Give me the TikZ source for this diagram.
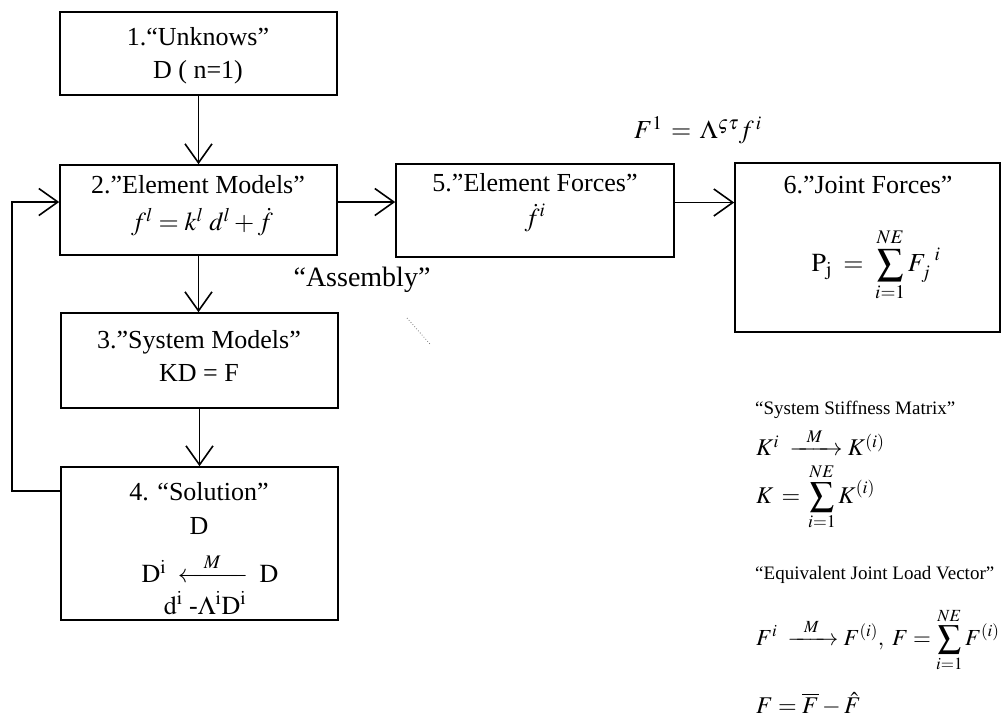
\documentclass[tikz,border=0pt]{standalone}
\usepackage{amsmath}
\usepackage{mathptmx}
\usepackage{fontspec}
\setmainfont{Liberation Serif}
\usetikzlibrary{arrows.meta}
\begin{document}
\begin{tikzpicture}[x=1pt,y=-1pt,
  box/.style={draw, line width=1.6pt, inner sep=0pt},
  lbl/.style={font=\fontsize{26}{31}\selectfont, inner sep=0pt},
  rtxt/.style={font=\fontsize{19}{23}\selectfont, inner sep=0pt, anchor=west},
  rmath/.style={font=\fontsize{24}{29}\selectfont, inner sep=0pt, anchor=west},
  arr/.style={line width=1.5pt, -{Straight Barb[length=19pt,width=27pt,line width=1.6pt]}}]
\useasboundingbox (0,0) rectangle (1006,724);

% boxes
\node[box, minimum width=277pt, minimum height=83pt]  (b1) at (198.5,53.5) {};
\node[box, minimum width=277pt, minimum height=90pt]  (b2) at (198.5,210) {};
\node[box, minimum width=277pt, minimum height=95pt]  (b3) at (199.5,360.5) {};
\node[box, minimum width=277pt, minimum height=153pt] (b4) at (199.5,543.5) {};
\node[box, minimum width=278pt, minimum height=93pt]  (b5) at (535,210.5) {};
\node[box, minimum width=265pt, minimum height=169pt] (b6) at (867.5,247.5) {};

% box texts
\node[lbl] (t1a) at (198,37) {1.“Unknows”};
\node[lbl] (t1b) at (198,72) {D ( n=1)};
\node[lbl] (t2a) at (198,185) {2.”Element Models”};
\node[lbl] (t2b) at (202,222) {$f^{l} = k^{l}\; d^{l} + \dot{f}$};
\node[lbl] (t3a) at (199,342) {3.”System Models”};
\node[lbl] (t3b) at (199,373) {KD = F};
\node[lbl] (t4a) at (199,492) {4. “Solution”};
\node[lbl] (t4b) at (199,526) {D};
\node[lbl] (t4c) at (210,568) {$\mathrm{D}^{\mathrm{i}}\;\xleftarrow{\;\;\;\;M\;\;\;\;\;}\;\mathrm{D}$};
\node[lbl] (t4d) at (205,603) {$\mathrm{d}^{\mathrm{i}}\ \text{-}\Lambda^{\mathrm{i}}\mathrm{D}^{\mathrm{i}}$};
\node[lbl] (t5a) at (535,183) {5.”Element Forces”};
\node[lbl] (t5b) at (535,218) {$\dot{f}^{i}$};
\node[lbl] (t6a) at (868,185) {6.”Joint Forces”};
\node[lbl] (t6b) at (876,265) {$\displaystyle \mathrm{P}_{\mathrm{j}} \;=\; \sum_{i=1}^{NE} F_{j}^{\;\;i}$};

% free labels
\node[lbl] (f1) at (698,130) {$F^{1} \,=\, \Lambda^{\varsigma\tau} f^{\,i}$};
\node[lbl, font=\fontsize{28}{33}\selectfont] (asm) at (362,280) {“Assembly”};

\node[rtxt] (r1) at (755,410) {“System Stiffness Matrix”};
\node[rmath] (r2) at (756,442) {$K^{i}\;\xrightarrow{\;\;\;M\;\;\;}K^{(i)}$};
\node[rmath] (r3) at (756,497) {$\displaystyle K \,=\, \sum_{i=1}^{NE} K^{(i)}$};
\node[rtxt] (r4) at (755,575) {“Equivalent Joint Load Vector”};
\node[rmath, font=\fontsize{23}{28}\selectfont] (r5) at (756,640) {$\displaystyle F^{i}\;\xrightarrow{\;\;\;M\;\;\;}F^{(i)},\; F = \sum_{i=1}^{NE} F^{(i)}$};
\node[rmath] (r6) at (756,704) {$F = \overline{F} - \hat{F}$};

% connectors
\draw[arr] (b1.south) -- (b1.south |- b2.north);
\draw[arr] (b2.south) -- (b2.south |- b3.north);
\draw[arr] (b3.south) -- (b3.south |- b4.north);
\draw[arr] ([yshift=8pt]b2.east) -- ([yshift=8pt]b2.east -| b5.west);
\draw[arr] ([yshift=8pt]b5.east) -- ([yshift=8pt]b5.east -| b6.west);
\coordinate (lp) at (12,0);
\draw[arr] ([yshift=-25pt]b4.north west) -- ([yshift=-25pt]b4.north west -| lp) |- ([yshift=8pt]b2.west);

% faint scan specks
\draw[gray, line width=0.8pt, dotted] (407,318) -- (430,344);
\end{tikzpicture}
\end{document}
